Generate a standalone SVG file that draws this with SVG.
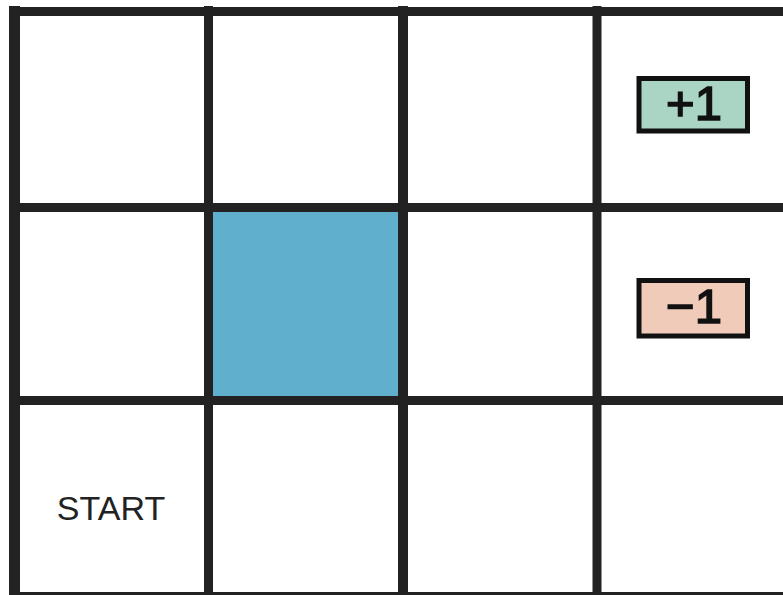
<svg xmlns="http://www.w3.org/2000/svg" width="783" height="595" viewBox="0 0 783 595">
<style>
.ln{stroke:#222222;stroke-width:9;fill:none}
.badge{stroke:#111111;stroke-width:5}
.big{font-family:"Liberation Sans",Arial,sans-serif;font-size:49px;fill:#111111;stroke:#111111;stroke-width:1.6;text-anchor:middle}
.lbl{font-family:"Liberation Sans",Arial,sans-serif;font-size:34px;fill:#222222;text-anchor:middle}
</style>
<rect x="0" y="0" width="783" height="595" fill="#ffffff"/>
<g id="wall">
<rect x="208" y="207" width="195" height="194" fill="#5FAFCD"/>
</g>
<g id="grid">
<line class="ln" x1="14.5" y1="6" x2="14.5" y2="600" style="stroke-width:11"/>
<line class="ln" x1="208.5" y1="6" x2="208.5" y2="600"/>
<line class="ln" x1="403" y1="6" x2="403" y2="600" style="stroke-width:10"/>
<line class="ln" x1="597" y1="6" x2="597" y2="600"/>
<line class="ln" x1="9" y1="11.5" x2="783" y2="11.5"/>
<line class="ln" x1="9" y1="207.5" x2="783" y2="207.5"/>
<line class="ln" x1="9" y1="400.5" x2="783" y2="400.5"/>
<line class="ln" x1="9" y1="596.5" x2="783" y2="596.5"/>
</g>
<g id="plus1">
<rect class="badge" x="639" y="78.5" width="108.5" height="52.5" fill="#AAD4C4"/>
<text class="big" x="694" y="120">+1</text>
</g>
<g id="minus1">
<rect class="badge" x="639" y="280.5" width="108.5" height="55.5" fill="#F0CBBA"/>
<text class="big" x="694" y="323">−1</text>
</g>
<g id="start">
<text class="lbl" x="111" y="519.5">START</text>
</g>
</svg>
